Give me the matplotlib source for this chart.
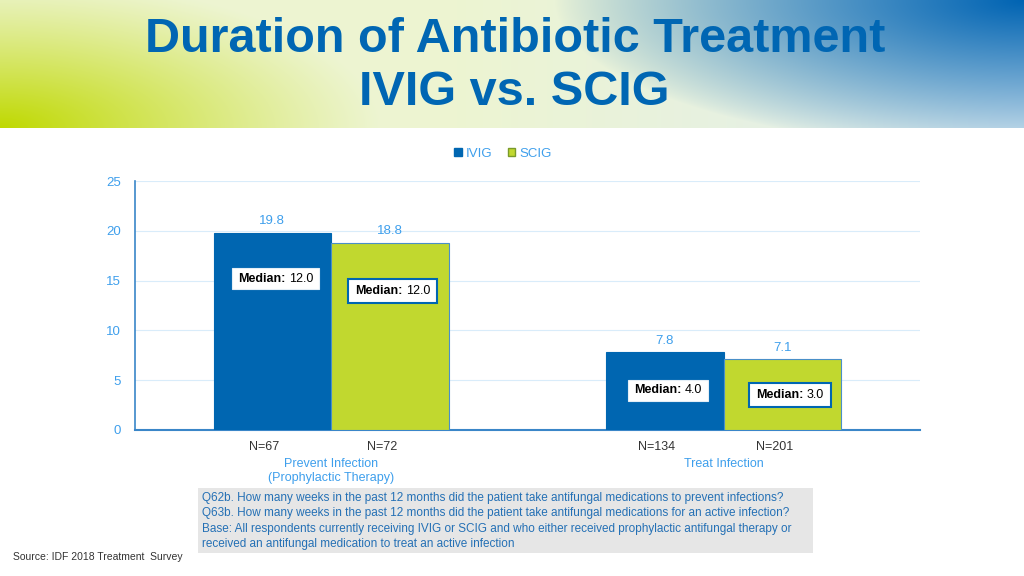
import matplotlib
matplotlib.use('Agg')
import matplotlib.pyplot as plt
from matplotlib.patches import Patch, Rectangle
from matplotlib.transforms import offset_copy, IdentityTransform
import numpy as np

plt.rcParams['font.family'] = ['Liberation Sans', 'DejaVu Sans']

# data
groups = ['Prevent Infection\n(Prophylactic Therapy)', 'Treat Infection']
series = ['IVIG', 'SCIG']
ivig_mean = [19.8, 7.8]
scig_mean = [18.8, 7.1]
ivig_median = [12.0, 4.0]
scig_median = [12.0, 3.0]
ivig_n = [67, 134]
scig_n = [72, 201]

footnote = [
    'Q62b. How many weeks in the past 12 months did the patient take antifungal medications to prevent infections?',
    'Q63b. How many weeks in the past 12 months did the patient take antifungal medications for an active infection?',
    'Base: All respondents currently receiving IVIG or SCIG and who either received prophylactic antifungal therapy or',
    'received an antifungal medication to treat an active infection',
]

blue = '#0066B1'
green = '#C1D82F'
light = '#3E9FEC'
title_blue = '#0066B3'

fig = plt.figure(figsize=(10.24, 5.76), dpi=100)

# header gradient
W, H = 1024, 128
xx, yy = np.meshgrid(np.arange(W), np.arange(H))
base = np.array([0.93, 0.96, 0.82])
gcol = np.array([0.75, 0.85, 0.0])
bcol = np.array([0.0, 0.39, 0.70])
dg = np.sqrt((xx / 380.0) ** 2 + ((H - yy) / 150.0) ** 2)
wg = np.clip(1 - dg, 0, 1) ** 1.1
db = np.sqrt(((W - xx) / 470.0) ** 2 + (yy / 150.0) ** 2)
wb = np.clip(1 - db, 0, 1) ** 0.85
rmix = np.clip((xx - 450) / 574.0, 0, 1)[..., None]
base_img = base * (1 - rmix) + np.array([0.88, 0.93, 0.95]) * rmix
img = base_img * (1 - wg[..., None]) + gcol * wg[..., None]
img = img * (1 - wb[..., None]) + bcol * wb[..., None]
hax = fig.add_axes([0, 1 - 128 / 576, 1, 128 / 576])
hax.imshow(img, aspect='auto', interpolation='bilinear')
hax.axis('off')

fig.text(0.503, 1 - 52 / 576, 'Duration of Antibiotic Treatment', ha='center', va='baseline',
         fontsize=35, fontweight='bold', color=title_blue)
fig.text(0.502, 1 - 105 / 576, 'IVIG vs. SCIG', ha='center', va='baseline',
         fontsize=35, fontweight='bold', color=title_blue)

# chart
ax = fig.add_axes([135 / 1024, 1 - 430 / 576, 785 / 1024, 249 / 576])
x = np.arange(len(groups)) + 0.5
w = 0.3
b1 = ax.bar(x - w / 2, ivig_mean, w, color=blue, edgecolor=blue, linewidth=0.8, zorder=3)
b2 = ax.bar(x + w / 2, scig_mean, w, color=green, edgecolor='#4A8FC8', linewidth=0.8, zorder=3)
ax.set_xlim(0, 2)
ax.set_ylim(0, 25)
ax.set_yticks(np.arange(0, 26, 5))
ax.set_xticks([])
ax.tick_params(axis='y', length=0, pad=10, labelsize=9.5, labelcolor=light)
ax.grid(axis='y', color='#D9ECFA', linewidth=0.8, zorder=0)
for s in ['top', 'right']:
    ax.spines[s].set_visible(False)
ax.spines['left'].set_color('#3A86C8')
ax.spines['left'].set_linewidth(1.2)
ax.spines['bottom'].set_color('#3A86C8')
ax.spines['bottom'].set_linewidth(1.5)

for bars, vals in [(b1, ivig_mean), (b2, scig_mean)]:
    for r, v in zip(bars, vals):
        ax.annotate(f'{v:.1f}', (r.get_x() + r.get_width() / 2, v), xytext=(0, 4),
                    textcoords='offset points', ha='center', va='bottom', fontsize=9.5, color=light)

# median boxes: (x, y, value, pad_x px, height px, edge colour, edge width)
med_y_ivig = [15.2, 3.97]
med_y_scig = [14.0, 3.56]
boxes = []
for i in range(len(groups)):
    boxes.append((x[i] - w / 2 + 0.008, med_y_ivig[i], ivig_median[i], 6, 21, '#E4EEF6', 0.8))
    boxes.append((x[i] + w / 2 + 0.006 + 0.012 * i, med_y_scig[i], scig_median[i], 7, 24, blue, 1.5))

renderer = fig.canvas.get_renderer()
pt = 72.0 / fig.dpi
fs = 9
for bx, by, v, padx, bh, ec, lw in boxes:
    label = f'{v:.1f}'
    t1 = ax.text(bx, by, 'Median:', ha='left', va='center', fontsize=fs, fontweight='bold',
                 color='black', zorder=6)
    t2 = ax.text(bx, by, label, ha='right', va='center', fontsize=fs, color='black', zorder=6)
    w1 = t1.get_window_extent(renderer).width
    w2 = t2.get_window_extent(renderer).width
    total = w1 + 3.5 + w2
    t1.set_transform(offset_copy(ax.transData, fig, x=-total / 2 * pt, y=0, units='points'))
    t2.set_transform(offset_copy(ax.transData, fig, x=total / 2 * pt, y=0, units='points'))
    cx, cy = ax.transData.transform((bx, by))
    ax.add_patch(Rectangle((cx - total / 2 - padx, cy - bh / 2), total + 2 * padx, bh,
                           transform=IdentityTransform(), facecolor='white', edgecolor=ec,
                           linewidth=lw, zorder=5))

# N labels and group labels
for i in range(len(groups)):
    for xc, n in [(x[i] - w / 2 - 0.02, ivig_n[i]), (x[i] + w / 2 - 0.02, scig_n[i])]:
        ax.annotate(f'N={n}', (xc, 0), xycoords=('data', 'axes fraction'), xytext=(0, -8),
                    textcoords='offset points', ha='center', va='top', fontsize=9, color='#333333')
    ax.annotate(groups[i], (x[i], 0), xycoords=('data', 'axes fraction'), xytext=(0, -20),
                textcoords='offset points', ha='center', va='top', fontsize=9, color=light,
                linespacing=1.25)

handles = [Patch(facecolor=blue, edgecolor=blue), Patch(facecolor=green, edgecolor='#7A9A2A')]
fig.legend(handles, series, loc='center', bbox_to_anchor=(503 / 1024, 1 - 154 / 576), ncol=2,
           frameon=False, handlelength=0.55, handleheight=0.55, handletextpad=0.3,
           columnspacing=1.2, fontsize=9.5, labelcolor=light)

# footnote box
fig.patches.append(Rectangle((198 / 1024, 1 - 553 / 576), 615 / 1024, 65 / 576,
                             transform=fig.transFigure, facecolor='#E6E6E6', edgecolor='none'))
for k, line in enumerate(footnote):
    fig.text(202 / 1024, 1 - (498 + 15.3 * k) / 576, line, ha='left', va='center',
             fontsize=8.5, color='#2470B5')

fig.text(13 / 1024, 1 - 557 / 576, 'Source: IDF 2018 Treatment  Survey', ha='left', va='center',
         fontsize=7.5, color='#333333')

fig.savefig('out.png', dpi=100)
